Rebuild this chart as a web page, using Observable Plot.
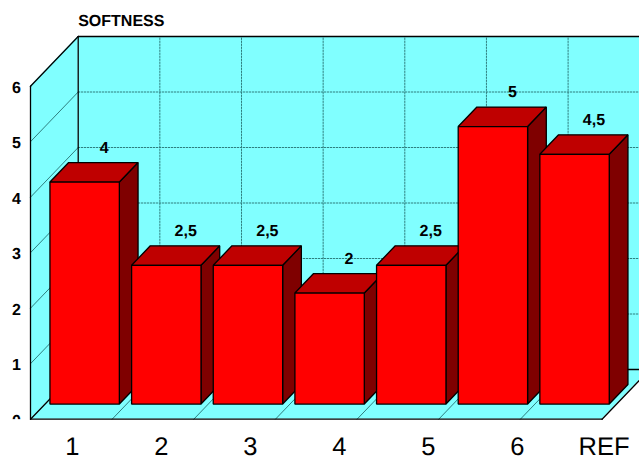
<!DOCTYPE html>
<html>
<head>
<meta charset="utf-8">
<script src="https://cdn.jsdelivr.net/npm/d3@7"></script>
<script src="https://cdn.jsdelivr.net/npm/@observablehq/plot@0.6"></script>
<style>
html,body{margin:0;padding:0;background:#fff}
svg{display:block}
text{text-rendering:geometricPrecision}
</style>
</head>
<body>
<div id="chart"></div>
<script>
const categories = ["1","2","3","4","5","6","REF"];
const values = [4,2.5,2.5,2,2.5,5,4.5];
const valueLabels = ["4","2,5","2,5","2","2,5","5","4,5"];
const yTicks = [0,1,2,3,4,5,6];
const title = "SOFTNESS";

const FONT = "Liberation Sans, Arial, Helvetica, sans-serif";
const RED="#ff0000", TOP="#bf0000", SIDE="#7f0000", WALL="#80ffff", GRID="#2f7f7f";

// oblique projection: depth z in 0..1 shifts a point in data units
const unitX = 81.65, unitY = 55.5;
const DX = 47.7/unitX, DY = 49.7/unitY;
const sx = (x,z) => x + z*DX;
const sy = (y,z) => y + z*DY;
const zFront = 0.295, zBack = 0.687, gapL = 0.072, gapR = 0.078;
const n = categories.length;

// a quadrilateral as an area: two edges a→b and c→d
const quad = (a,b,c,d,fill,stroke="black",sw=1.3) => Plot.area(
  [{x1:a[0],y1:a[1],x2:c[0],y2:c[1]},{x1:b[0],y1:b[1],x2:d[0],y2:d[1]}],
  {x1:"x1",y1:"y1",x2:"x2",y2:"y2",fill,stroke,strokeWidth:sw,strokeLinejoin:"miter"}
);
const seg = (a,b,opts) => Plot.line([a,b],{x:d=>d[0],y:d=>d[1],...opts});

const xIdx = d3.range(n+1);
const wallMarks = [
  quad([sx(0,1),sy(0,1)],[sx(n,1),sy(0,1)],[sx(0,1),sy(6,1)],[sx(n,1),sy(6,1)],WALL,"none"),
  quad([0,0],[0,6],[sx(0,1),sy(0,1)],[sx(0,1),sy(6,1)],WALL,"none"),
  quad([0,0],[n,0],[sx(0,1),sy(0,1)],[sx(n,1),sy(0,1)],WALL,"none"),
  // back-wall grid
  ...yTicks.slice(1,-1).map(v=>seg([sx(0,1),sy(v,1)],[sx(n,1),sy(v,1)],{stroke:GRID,strokeWidth:1,strokeDasharray:"1.5,1.5"})),
  ...xIdx.slice(1).map(i=>seg([sx(i,1),sy(0,1)],[sx(i,1),sy(6,1)],{stroke:GRID,strokeWidth:1,strokeDasharray:"1.5,1.5"})),
  // left-wall and floor grid
  ...yTicks.slice(1,-1).map(v=>seg([0,v],[sx(0,1),sy(v,1)],{stroke:GRID,strokeWidth:1})),
  ...xIdx.slice(1,-1).map(i=>seg([i,0],[sx(i,1),sy(0,1)],{stroke:GRID,strokeWidth:1})),
  // outlines
  seg([0,0],[0,6],{stroke:"black",strokeWidth:1.3}),
  seg([0,6],[sx(0,1),sy(6,1)],{stroke:"black",strokeWidth:1.3}),
  seg([sx(0,1),sy(6,1)],[sx(n,1),sy(6,1)],{stroke:"black",strokeWidth:1.3}),
  seg([sx(0,1),sy(0,1)],[sx(0,1),sy(6,1)],{stroke:"black",strokeWidth:1.3}),
  seg([0,0],[n,0],{stroke:"black",strokeWidth:1.3}),
  seg([0,0],[sx(0,1),sy(0,1)],{stroke:"black",strokeWidth:1.3}),
  seg([n,0],[sx(n,1),sy(0,1)],{stroke:"black",strokeWidth:1.3}),
  seg([sx(0,1),sy(0,1)],[sx(n,1),sy(0,1)],{stroke:"black",strokeWidth:1.3})
];

const barMarks = values.flatMap((v,i)=>{
  const l=i+gapL, r=i+1-gapR;
  return [
    quad([sx(r,zFront),sy(0,zFront)],[sx(r,zFront),sy(v,zFront)],[sx(r,zBack),sy(0,zBack)],[sx(r,zBack),sy(v,zBack)],SIDE),
    quad([sx(l,zFront),sy(v,zFront)],[sx(r,zFront),sy(v,zFront)],[sx(l,zBack),sy(v,zBack)],[sx(r,zBack),sy(v,zBack)],TOP),
    quad([sx(l,zFront),sy(0,zFront)],[sx(r,zFront),sy(0,zFront)],[sx(l,zFront),sy(v,zFront)],[sx(r,zFront),sy(v,zFront)],RED)
  ];
});

const labelStart = 0.514, labelStep = 1.09, lastShift = -0.03;
const plot = Plot.plot({
  width:639, height:457,
  marginTop:0, marginRight:0, marginBottom:0, marginLeft:0,
  style:{background:"#fff", fontFamily:FONT, overflow:"hidden"},
  x:{type:"linear", domain:[0,7], range:[30,30+7*unitX], axis:null},
  y:{type:"linear", domain:[0,6], range:[418.7,418.7-6*unitY], axis:null},
  marks:[
    ...wallMarks,
    ...barMarks,
    Plot.text(values,{
      x:(d,i)=>sx(i+0.5,zBack), y:(d,i)=>sy(d,zBack),
      text:(d,i)=>valueLabels[i], dy:-15.5,
      fontSize:16, fontWeight:"bold", fill:"black", textAnchor:"middle"
    }),
    Plot.text(yTicks,{
      x:0, y:d=>d, text:d=>String(d), dx:-14, dy:1.5,
      fontSize:16, fontWeight:"bold", fill:"black", textAnchor:"middle"
    }),
    // the reference cuts the "0" tick label off at the floor line
    Plot.rect([0],{x1:-0.4,x2:-0.008,y1:-0.008,y2:-0.3,fill:"white"}),
    Plot.text(categories,{
      x:(d,i)=>labelStart+i*labelStep+(i===n-1?lastShift:0), y:0, text:d=>d,
      dy:27.5, fontSize:25.5, fill:"black", textAnchor:"middle"
    }),
    Plot.text([title],{
      x:sx(0,1), y:sy(6,1), text:d=>d, dy:-15.5,
      fontSize:16, fontWeight:"bold", fill:"black", textAnchor:"start"
    })
  ]
});
document.getElementById("chart").append(plot);
</script>
</body>
</html>
